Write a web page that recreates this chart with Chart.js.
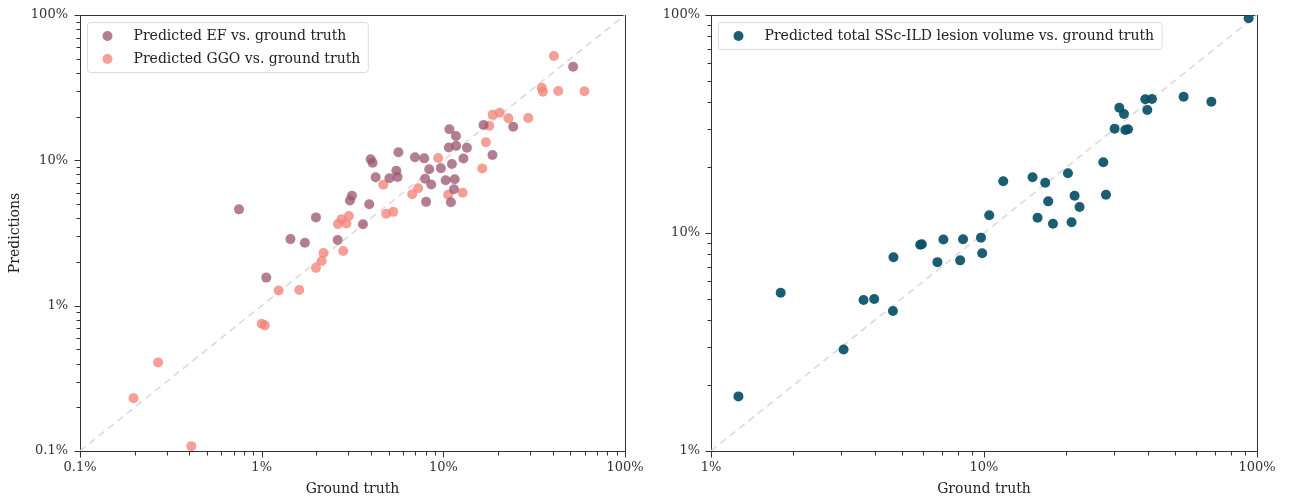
<!DOCTYPE html>
<html><head><meta charset="utf-8">
<script src="https://cdn.jsdelivr.net/npm/chart.js@4/dist/chart.umd.min.js"></script>
<style>
html,body{margin:0;padding:0;background:#fff;}
#wrap{position:relative;width:1292px;height:501px;overflow:hidden;background:#fff;}
.pane{position:absolute;top:0;width:646px;height:501px;}
</style></head><body>
<div id="wrap">
<div class="pane" style="left:0"><canvas id="c1" width="646" height="501"></canvas></div>
<div class="pane" style="left:646px"><canvas id="c2" width="646" height="501"></canvas></div>
</div>
<script>
// ---- data (percent) ----
const efTruth = [0.75,1.06,1.44,1.73,1.99,2.62,3.06,3.14,3.61,3.91,3.98,4.08,4.24,5.05,5.51,5.60,5.66,6.98,7.85,7.94,8.36,8.58,8.04,9.70,10.3,10.8,10.72,11.15,11.01,11.44,11.55,11.73,11.76,12.9,13.49,16.65,18.63,24.25,51.8];
const efPred  = [4.60,1.56,2.87,2.71,4.05,2.83,5.29,5.70,3.63,4.99,10.16,9.63,7.64,7.52,8.48,7.68,11.37,10.50,10.32,7.46,8.68,6.81,5.18,8.82,7.29,16.37,12.25,9.43,5.15,6.32,7.41,14.70,12.60,10.29,12.21,17.50,10.88,17.01,44.1];
const ggoTruth = [0.197,0.269,0.410,1.00,1.04,1.24,1.61,1.99,2.14,2.19,2.63,2.75,2.81,2.93,3.02,4.67,4.85,5.30,6.74,7.27,9.37,10.63,12.77,16.37,17.16,17.89,18.68,20.43,22.82,29.33,34.80,35.33,40.62,42.90,59.80];
const ggoPred  = [0.231,0.407,0.108,0.750,0.732,1.27,1.28,1.82,2.03,2.30,3.64,3.93,2.38,3.68,4.14,6.80,4.29,4.42,5.84,6.42,10.37,5.79,5.98,8.78,13.32,17.28,20.56,21.26,19.46,19.55,31.60,29.60,52.2,29.99,29.85];
const totalTruth = [1.26,1.80,3.06,3.62,3.96,4.64,4.66,5.84,5.92,7.10,6.75,8.38,8.18,9.75,9.85,10.45,11.76,15.06,16.76,20.30,17.19,15.71,17.89,20.93,21.47,22.39,27.35,27.98,30.09,31.31,32.57,32.93,33.69,38.98,41.25,39.64,53.85,68.05,93.2];
const totalPred  = [1.78,5.32,2.92,4.93,4.98,4.39,7.74,8.84,8.88,9.34,7.35,9.37,7.49,9.52,8.08,12.07,17.27,18.01,17.01,18.79,13.97,11.75,11.03,11.20,14.83,13.16,21.10,14.98,30.09,37.56,35.14,29.68,29.90,41.05,41.18,36.66,42.19,40.02,96.6];

const leftMajors = [0.1, 1, 10, 100];
const leftTickLabels = ['0.1%', '1%', '10%', '100%'];
const rightMajors = [1, 10, 100];
const rightTickLabels = ['1%', '10%', '100%'];

const labelEF = 'Predicted EF vs. ground truth';
const labelGGO = 'Predicted GGO vs. ground truth';
const labelTotal = 'Predicted total SSc-ILD lesion volume vs. ground truth';
const xTitle = 'Ground truth';
const yTitle = 'Predictions';

const FONT = '"DejaVu Serif", "Liberation Serif", serif';

// ---- plugins ----
const framePlugin = {
  id: 'frame',
  beforeDatasetsDraw(chart) {
    const {ctx, chartArea: a} = chart;
    ctx.save();
    ctx.strokeStyle = '#333';
    ctx.lineWidth = 1;
    ctx.strokeRect(a.left + 0.5, a.top + 0.5, a.right - a.left, a.bottom - a.top);
    const xs = chart.scales.x, ys = chart.scales.y;
    ctx.beginPath();
    xs.ticks.forEach(t => {
      const px = Math.round(xs.getPixelForValue(t.value)) + 0.5;
      const len = t.major ? 5.5 : 3.5;
      ctx.moveTo(px, a.bottom + 1);
      ctx.lineTo(px, a.bottom + 1 + len);
    });
    ys.ticks.forEach(t => {
      const py = Math.round(ys.getPixelForValue(t.value)) + 0.5;
      const len = t.major ? 5.5 : 3.5;
      ctx.moveTo(a.left, py);
      ctx.lineTo(a.left - len, py);
    });
    ctx.stroke();
    ctx.restore();
  }
};

const legendPlugin = {
  id: 'boxLegend',
  afterDatasetsDraw(chart) {
    const {ctx, chartArea: a} = chart;
    const items = chart.data.datasets.filter(d => d.inLegend);
    ctx.save();
    ctx.font = '14px ' + FONT;
    let tw = 0;
    items.forEach(d => { tw = Math.max(tw, ctx.measureText(d.label).width); });
    const bx = a.left + 7, by = a.top + 7;
    const bw = 46 + tw + 8, bh = 27 + (items.length - 1) * 23;
    ctx.beginPath();
    ctx.roundRect(bx + 0.5, by + 0.5, bw, bh, 3);
    ctx.fillStyle = 'rgba(255,255,255,0.85)';
    ctx.fill();
    ctx.strokeStyle = '#dcdcdc';
    ctx.lineWidth = 1;
    ctx.stroke();
    items.forEach((d, i) => {
      const cy = by + 14 + i * 23;
      ctx.beginPath();
      ctx.arc(bx + 20.5, cy, 5, 0, Math.PI * 2);
      ctx.fillStyle = d.backgroundColor;
      ctx.fill();
      ctx.fillStyle = '#222';
      ctx.textBaseline = 'middle';
      ctx.textAlign = 'left';
      ctx.fillText(d.label, bx + 46.5, cy);
    });
    ctx.restore();
  }
};

function buildTicksFrom(majors) {
  return function(scale) {
    const t = [];
    for (let i = 0; i < majors.length - 1; i++) {
      for (let k = 1; k <= 9; k++) t.push({value: majors[i] * k, major: k === 1});
    }
    t.push({value: majors[majors.length - 1], major: true});
    scale.ticks = t;
  };
}
function tickLabel(majors, labels) {
  return function(v) {
    const k = majors.findIndex(m => Math.abs(Math.log10(m) - Math.log10(v)) < 1e-6);
    return k >= 0 ? labels[k] : '';
  };
}

function makeChart(id, o) {
  const first = o.majors[0], last = o.majors[o.majors.length - 1];
  const datasets = o.series.map(s => ({
    label: s.label,
    data: s.x.map((v, i) => ({x: v, y: s.y[i]})),
    backgroundColor: s.color,
    borderWidth: 0,
    pointRadius: 5,
    pointHoverRadius: 5,
    order: 1,
    inLegend: true
  }));
  datasets.push({
    label: 'identity',
    data: [{x: first, y: first}, {x: last, y: last}],
    showLine: true,
    borderColor: '#d9d9d9',
    borderWidth: 1.5,
    borderDash: [7, 5],
    pointRadius: 0,
    order: 5,
    inLegend: false
  });
  const tickFont = {family: FONT, size: 13};
  return new Chart(document.getElementById(id), {
    type: 'scatter',
    data: {datasets},
    options: {
      responsive: false,
      animation: false,
      devicePixelRatio: 1,
      events: [],
      layout: {padding: {left: 0, top: 15, right: o.padRight, bottom: 0}},
      plugins: {legend: {display: false}, tooltip: {enabled: false}},
      scales: {
        x: {
          type: 'logarithmic', position: 'bottom', min: first, max: last,
          grid: {display: false, drawTicks: false}, border: {display: false},
          ticks: {autoSkip: false, maxRotation: 0, padding: 9, font: tickFont, color: '#333',
                  callback: tickLabel(o.majors, o.labels)},
          title: {display: true, text: xTitle, font: {family: FONT, size: 14}, color: '#222',
                  padding: {top: 0, bottom: 3}},
          afterBuildTicks: buildTicksFrom(o.majors),
          afterFit(s) { s.height = 50; s.paddingLeft = 0; s.paddingRight = 0; }
        },
        y: {
          type: 'logarithmic', position: 'left', min: first, max: last,
          grid: {display: false, drawTicks: false}, border: {display: false},
          ticks: {autoSkip: false, padding: o.yPad, font: tickFont, color: '#333',
                  callback: tickLabel(o.majors, o.labels)},
          title: {display: !!o.yTitle, text: o.yTitle || '', font: {family: FONT, size: 14}, color: '#222',
                  padding: {top: 7, bottom: 0}},
          afterBuildTicks: buildTicksFrom(o.majors),
          afterFit(s) { s.width = o.yWidth; s.paddingTop = 0; s.paddingBottom = 0; }
        }
      }
    },
    plugins: [framePlugin, legendPlugin]
  });
}

makeChart('c1', {
  majors: leftMajors, labels: leftTickLabels, padRight: 21, yWidth: 80, yPad: 12, yTitle: yTitle,
  series: [
    {label: labelEF, x: efTruth, y: efPred, color: 'rgba(155,85,110,0.76)'},
    {label: labelGGO, x: ggoTruth, y: ggoPred, color: 'rgba(243,132,120,0.78)'}
  ]
});
makeChart('c2', {
  majors: rightMajors, labels: rightTickLabels, padRight: 35, yWidth: 65, yPad: 11, yTitle: null,
  series: [
    {label: labelTotal, x: totalTruth, y: totalPred, color: 'rgba(8,80,102,0.92)'}
  ]
});
</script>
</body></html>
